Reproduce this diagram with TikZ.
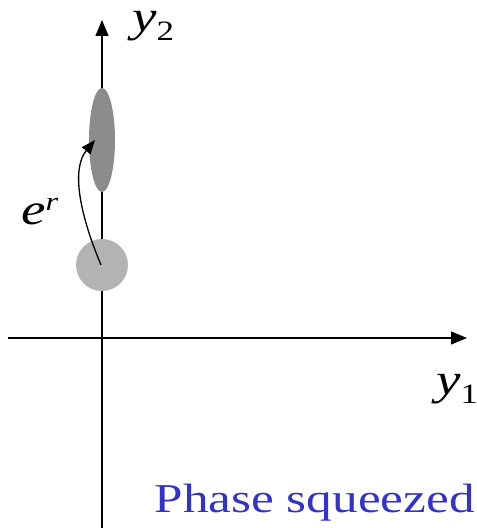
\documentclass[tikz,border=0pt]{standalone}
\usepackage{fontspec}
\setmainfont{Liberation Serif}
\usetikzlibrary{arrows.meta,shapes.geometric}
\definecolor{circgray}{HTML}{B3B3B3}
\definecolor{ellgray}{HTML}{8C8C8C}
\definecolor{labblue}{HTML}{3333CC}
\newcommand{\wide}[1]{\scalebox{1.25}[1]{#1}}
\tikzset{
  axis/.style={line width=1.3pt, -{Triangle[length=16pt,width=13pt]}},
  lab/.style={inner sep=0pt, font=\fontsize{44}{44}\selectfont},
}
\begin{document}
\begin{tikzpicture}[x=1pt,y=1pt]
\useasboundingbox (0,0) rectangle (477,528);
% axes
\coordinate (xs) at (8,190);
\coordinate (xe) at (467,190);
\coordinate (ys) at (102,0);
\coordinate (ye) at (102,508);
\draw[axis] (xs) -- (xe);
\draw[axis] (ys) -- (ye);
% states
\node[circle, fill=circgray, minimum size=52pt, inner sep=0pt] (vac) at (102,263) {};
\node[ellipse, fill=ellgray, minimum width=26pt, minimum height=104pt, inner sep=0pt] (sq) at (102,388) {};
\coordinate (a0) at (101,263);
\coordinate (a1) at (95,388);
\draw[line width=1.3pt, -{Triangle[length=14pt,width=11pt]}] (a0) .. controls (78,318) and (72,360) .. (a1);
% labels
\node[lab, anchor=base west] (ly2) at (132,496) {\wide{\textit{y}\raisebox{-9pt}{\fontsize{28}{28}\selectfont 2}}};
\node[lab, anchor=base west] (ly1) at (436,133) {\wide{\textit{y}\raisebox{-9pt}{\fontsize{28}{28}\selectfont 1}}};
\node[lab, anchor=base west] (ler) at (21,303) {\wide{\textit{e}\raisebox{14pt}{\fontsize{26}{26}\selectfont\textit{r}}}};
\node[inner sep=0pt, anchor=base east, text=labblue, font=\fontsize{41}{41}\selectfont] (title) at (475,16) {\wide{Phase squeezed}};
\end{tikzpicture}
\end{document}
